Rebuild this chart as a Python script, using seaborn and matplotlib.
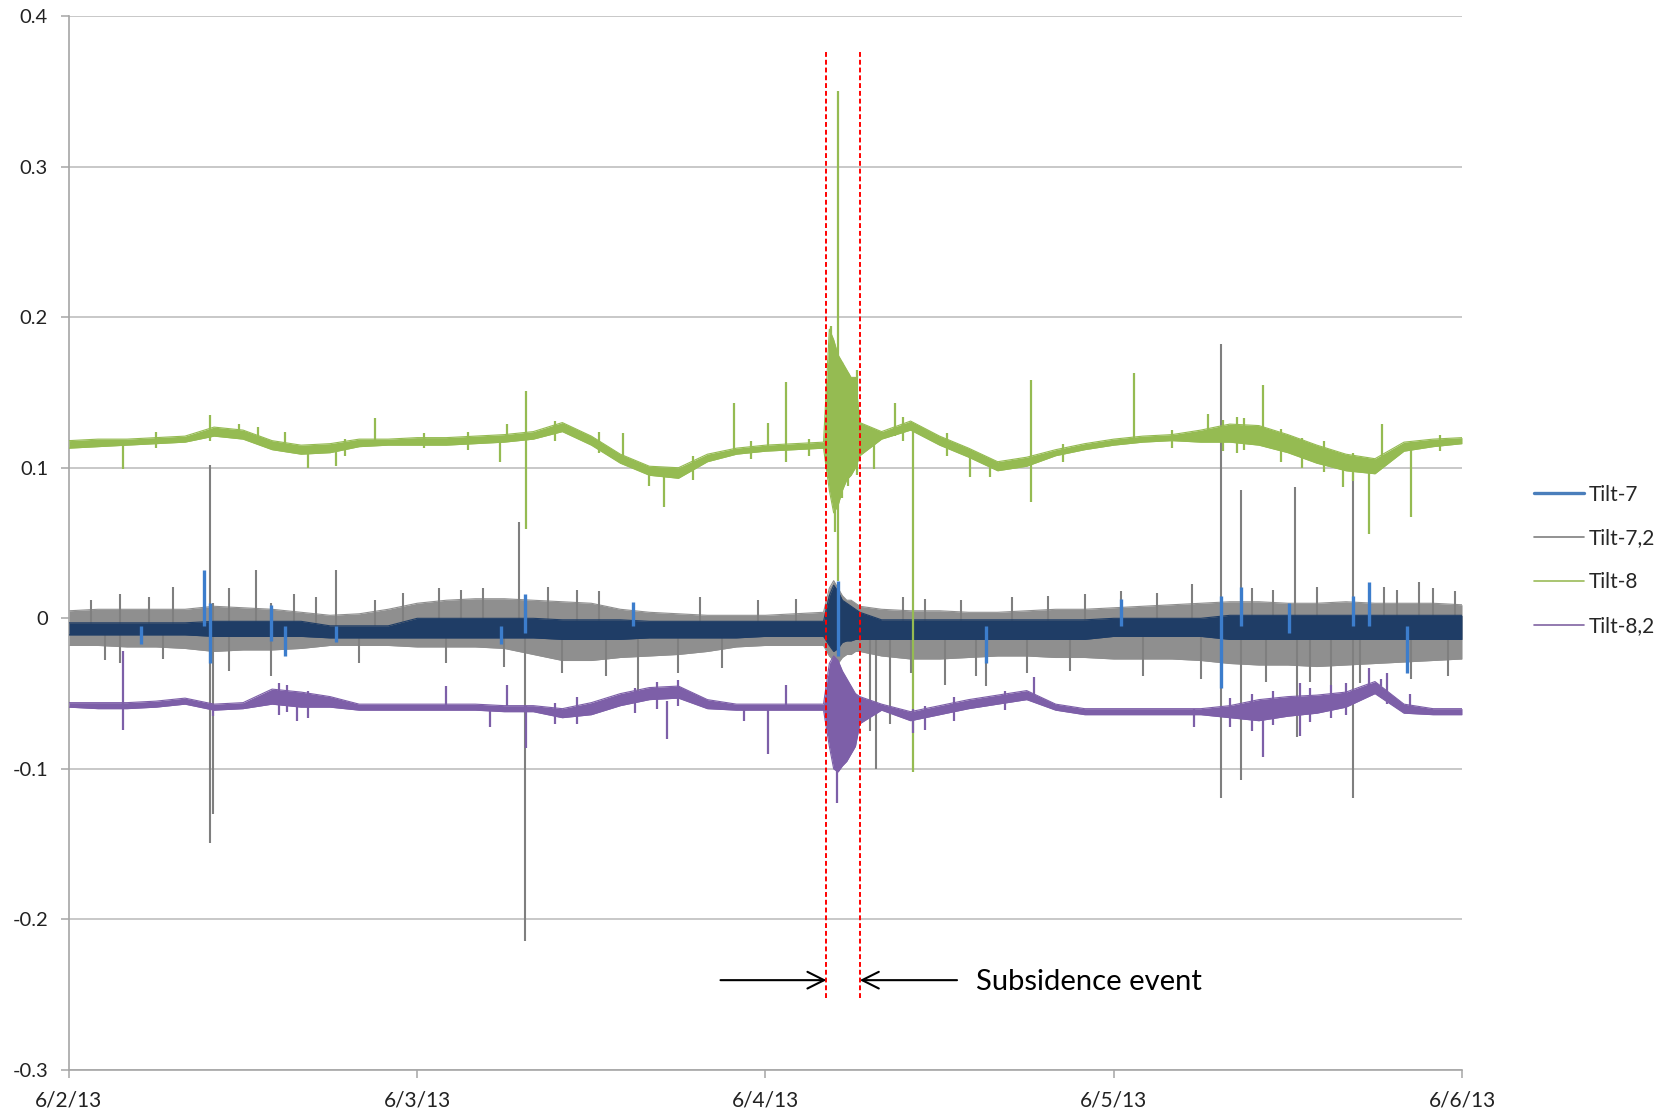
import matplotlib
matplotlib.use("Agg")
import matplotlib.pyplot as plt
from matplotlib.lines import Line2D
import pandas as pd
import seaborn as sns

# time axis in hours after 6/2/13 00:00 (denser points inside the subsidence burst)
hours = list(range(0, 53, 2)) + [52.4, 52.7, 53.0, 53.3, 53.6, 53.9, 54.2, 54.5] + list(range(56, 97, 2))

# noise envelopes (low / high)
tilt7_lo = [-0.011, -0.011, -0.011, -0.011, -0.011, -0.012, -0.012, -0.012, -0.012, -0.013,
            -0.013, -0.013, -0.013, -0.013, -0.013, -0.013, -0.013, -0.014, -0.014, -0.014,
            -0.013, -0.013, -0.013, -0.013, -0.012, -0.012, -0.012,
            -0.018, -0.022, -0.020, -0.016, -0.015, -0.015, -0.014, -0.014,
            -0.014, -0.014, -0.014, -0.014, -0.014, -0.014, -0.014, -0.014, -0.012, -0.012,
            -0.012, -0.012, -0.014, -0.014, -0.014, -0.014, -0.014, -0.014, -0.014, -0.014, -0.014]
tilt7_hi = [-0.003, -0.003, -0.003, -0.003, -0.003, -0.002, -0.002, -0.002, -0.002, -0.005,
            -0.005, -0.005, 0.000, 0.000, 0.000, 0.000, 0.000, -0.001, -0.001, -0.001,
            -0.002, -0.002, -0.002, -0.002, -0.002, -0.002, -0.002,
            0.015, 0.022, 0.018, 0.012, 0.010, 0.008, 0.006, 0.004,
            -0.001, -0.001, -0.001, -0.001, -0.001, -0.001, -0.001, -0.001, 0.000, 0.000,
            0.000, 0.000, 0.002, 0.002, 0.002, 0.002, 0.002, 0.002, 0.002, 0.002, 0.002]

tilt72_lo = [-0.018, -0.018, -0.019, -0.019, -0.020, -0.022, -0.021, -0.021, -0.020, -0.018,
             -0.018, -0.018, -0.019, -0.019, -0.019, -0.020, -0.024, -0.028, -0.028, -0.026,
             -0.025, -0.024, -0.022, -0.019, -0.018, -0.018, -0.018,
             -0.025, -0.028, -0.030, -0.026, -0.024, -0.024, -0.022, -0.022,
             -0.025, -0.027, -0.027, -0.026, -0.025, -0.025, -0.026, -0.026, -0.027, -0.027,
             -0.027, -0.028, -0.030, -0.031, -0.031, -0.032, -0.031, -0.030, -0.029, -0.028, -0.027]
tilt72_hi = [0.005, 0.006, 0.006, 0.006, 0.006, 0.008, 0.007, 0.006, 0.004, 0.002,
             0.003, 0.006, 0.010, 0.012, 0.013, 0.013, 0.012, 0.011, 0.010, 0.006,
             0.004, 0.003, 0.002, 0.002, 0.002, 0.003, 0.004,
             0.020, 0.025, 0.020, 0.015, 0.012, 0.012, 0.010, 0.008,
             0.006, 0.005, 0.005, 0.004, 0.004, 0.005, 0.006, 0.006, 0.007, 0.008,
             0.009, 0.010, 0.011, 0.011, 0.010, 0.010, 0.011, 0.010, 0.010, 0.010, 0.009]

tilt8_lo = [0.113, 0.114, 0.115, 0.116, 0.117, 0.121, 0.119, 0.112, 0.109, 0.110,
            0.114, 0.115, 0.115, 0.115, 0.116, 0.117, 0.119, 0.124, 0.115, 0.103,
            0.095, 0.093, 0.104, 0.109, 0.111, 0.112, 0.113,
            0.085, 0.070, 0.075, 0.085, 0.092, 0.095, 0.100, 0.108,
            0.119, 0.125, 0.115, 0.107, 0.098, 0.101, 0.108, 0.112, 0.115, 0.117,
            0.118, 0.117, 0.117, 0.115, 0.110, 0.103, 0.098, 0.096, 0.111, 0.114, 0.116]
tilt8_hi = [0.118, 0.119, 0.119, 0.120, 0.121, 0.127, 0.125, 0.118, 0.115, 0.116,
            0.119, 0.119, 0.120, 0.120, 0.121, 0.122, 0.124, 0.130, 0.121, 0.109,
            0.101, 0.100, 0.109, 0.113, 0.115, 0.116, 0.117,
            0.192, 0.185, 0.175, 0.170, 0.165, 0.160, 0.160, 0.130,
            0.124, 0.131, 0.121, 0.113, 0.104, 0.107, 0.112, 0.116, 0.119, 0.121,
            0.122, 0.125, 0.129, 0.128, 0.122, 0.115, 0.109, 0.106, 0.117, 0.119, 0.120]

tilt82_lo = [-0.059, -0.060, -0.060, -0.059, -0.057, -0.061, -0.060, -0.057, -0.059, -0.059,
             -0.061, -0.061, -0.061, -0.061, -0.061, -0.062, -0.062, -0.066, -0.064, -0.058,
             -0.054, -0.053, -0.060, -0.061, -0.061, -0.061, -0.061,
             -0.085, -0.100, -0.102, -0.098, -0.095, -0.090, -0.085, -0.070,
             -0.061, -0.068, -0.064, -0.060, -0.057, -0.054, -0.061, -0.064, -0.064, -0.064,
             -0.064, -0.064, -0.066, -0.068, -0.065, -0.063, -0.059, -0.050, -0.063, -0.064, -0.064]
tilt82_hi = [-0.056, -0.056, -0.056, -0.055, -0.053, -0.057, -0.056, -0.047, -0.049, -0.052,
             -0.057, -0.057, -0.057, -0.057, -0.057, -0.058, -0.058, -0.060, -0.056, -0.050,
             -0.046, -0.045, -0.054, -0.057, -0.057, -0.057, -0.057,
             -0.030, -0.025, -0.028, -0.035, -0.040, -0.045, -0.050, -0.052,
             -0.057, -0.062, -0.058, -0.054, -0.051, -0.048, -0.057, -0.060, -0.060, -0.060,
             -0.060, -0.060, -0.058, -0.054, -0.052, -0.051, -0.049, -0.042, -0.057, -0.060, -0.060]

# isolated spikes: hour, bottom, top
tilt7_spike_t = [5.0, 9.3, 9.7, 13.9, 14.9, 18.4, 29.8, 31.4, 38.9, 53.0, 63.2, 72.5, 79.4, 80.8, 84.1, 88.5, 89.6, 92.2]
tilt7_spike_lo = [-0.017, -0.005, -0.030, -0.015, -0.025, -0.016, -0.017, -0.010, -0.005, -0.025, -0.030, -0.005, -0.046, -0.005, -0.010, -0.005, -0.005, -0.036]
tilt7_spike_hi = [-0.005, 0.032, 0.010, 0.009, -0.005, -0.005, -0.005, 0.016, 0.011, 0.025, -0.005, 0.013, 0.015, 0.021, 0.010, 0.015, 0.024, -0.005]

tilt72_spike_t = [1.5, 2.5, 3.5, 5.5, 6.5, 7.2, 9.7, 9.9, 11.0, 12.9, 13.9, 15.5, 17.0, 18.4, 20.0, 21.1,
                  23.0, 25.5, 26.0, 27.0, 28.5, 30.0, 31.0, 31.4, 33.0, 34.0, 35.0, 36.5, 37.0, 39.2,
                  42.0, 43.5, 45.0, 47.5, 50.1, 55.2, 55.6, 56.6, 57.5, 58.0, 59.0, 60.4, 61.5, 62.5,
                  63.2, 65.0, 66.0, 67.5, 69.0, 70.0, 72.5, 74.0, 75.0, 77.4, 78.0, 79.4, 80.8, 81.5,
                  82.5, 83.0, 84.5, 84.6, 85.5, 86.0, 87.0, 88.5, 89.0, 90.6, 91.5, 92.5, 93.0, 94.0, 95.0, 95.5]
tilt72_spike_lo = [-0.010, -0.028, -0.030, -0.010, -0.027, -0.010, -0.149, -0.130, -0.035, -0.005, -0.038, -0.010, -0.010, -0.010, -0.030, -0.005,
                   -0.010, -0.010, -0.030, -0.010, -0.010, -0.032, -0.005, -0.214, -0.010, -0.036, -0.010, -0.010, -0.038, -0.050,
                   -0.036, -0.010, -0.033, -0.010, -0.010, -0.075, -0.100, -0.070, -0.010, -0.036, -0.010, -0.044, -0.010, -0.038,
                   -0.045, -0.010, -0.036, -0.010, -0.035, -0.010, -0.010, -0.038, -0.010, -0.010, -0.040, -0.119, -0.1075, -0.010,
                   -0.042, -0.010, -0.010, -0.079, -0.042, -0.010, -0.044, -0.119, -0.043, -0.010, -0.010, -0.040, -0.010, -0.010, -0.038, -0.010]
tilt72_spike_hi = [0.012, -0.010, 0.016, 0.014, -0.010, 0.021, 0.102, 0.010, 0.020, 0.032, 0.010, 0.016, 0.014, 0.032, -0.010, 0.012,
                   0.017, 0.020, -0.010, 0.019, 0.020, -0.010, 0.064, 0.010, 0.021, -0.010, 0.019, 0.018, -0.010, -0.010,
                   -0.010, 0.014, -0.010, 0.012, 0.013, -0.010, -0.005, -0.010, 0.014, -0.010, 0.013, -0.010, 0.012, -0.010,
                   -0.010, 0.014, -0.010, 0.015, -0.010, 0.016, 0.018, -0.010, 0.017, 0.023, -0.010, 0.182, 0.085, 0.020,
                   -0.010, 0.019, 0.087, -0.010, -0.010, 0.021, -0.010, 0.101, -0.010, 0.021, 0.019, -0.010, 0.024, 0.020, -0.010, 0.018]

tilt8_spike_t = [3.7, 6.0, 9.7, 11.7, 13.0, 14.9, 16.5, 18.4, 19.0, 21.1, 24.5, 27.5, 29.7, 30.2, 31.5, 33.5,
                 36.5, 38.2, 40.0, 41.0, 43.0, 45.8, 47.0, 48.2, 49.4, 51.0,
                 52.5, 52.8, 53.0, 53.25, 53.7, 54.3, 55.5, 56.9, 57.5, 58.2, 60.5, 62.1, 63.5, 66.3,
                 68.5, 73.4, 76.0, 78.5, 79.5, 80.5, 81.0, 82.3, 83.5, 85.0, 86.5, 87.8, 88.5, 89.6,
                 90.5, 92.5, 94.5]
tilt8_spike_lo = [0.099, 0.113, 0.118, 0.120, 0.116, 0.114, 0.100, 0.101, 0.108, 0.117, 0.113, 0.112, 0.1035, 0.119, 0.059, 0.118,
                  0.110, 0.106, 0.088, 0.074, 0.092, 0.110, 0.106, 0.113, 0.104, 0.108,
                  0.085, 0.057, 0.025, 0.080, 0.088, 0.095, 0.099, 0.121, 0.118, -0.102, 0.108, 0.094, 0.094, 0.077,
                  0.104, 0.118, 0.113, 0.121, 0.111, 0.110, 0.112, 0.121, 0.104, 0.100, 0.097, 0.087, 0.091, 0.056,
                  0.100, 0.067, 0.111]
tilt8_spike_hi = [0.117, 0.124, 0.135, 0.129, 0.127, 0.124, 0.112, 0.113, 0.119, 0.133, 0.123, 0.124, 0.119, 0.129, 0.151, 0.131,
                  0.124, 0.123, 0.100, 0.098, 0.108, 0.143, 0.118, 0.130, 0.157, 0.119,
                  0.194, 0.178, 0.350, 0.170, 0.163, 0.165, 0.117, 0.143, 0.134, 0.125, 0.123, 0.112, 0.106, 0.158,
                  0.116, 0.163, 0.125, 0.136, 0.132, 0.134, 0.133, 0.155, 0.126, 0.120, 0.118, 0.104, 0.110, 0.100,
                  0.129, 0.114, 0.122]

tilt82_spike_t = [3.7, 9.9, 14.5, 15.0, 15.7, 16.5, 26.0, 29.0, 30.2, 31.5, 33.5, 35.0, 39.0, 40.5, 41.2, 42.0,
                  46.5, 48.2, 49.4, 52.9, 58.2, 59.0, 61.0, 64.5, 66.5, 77.5, 80.0, 81.5, 82.3, 83.0,
                  84.8, 85.5, 87.0, 88.0, 89.6, 90.4, 90.8, 92.4]
tilt82_spike_lo = [-0.074, -0.065, -0.064, -0.062, -0.0685, -0.066, -0.058, -0.072, -0.058, -0.086, -0.070, -0.070, -0.063, -0.060, -0.080, -0.058,
                   -0.068, -0.090, -0.058, -0.1225, -0.076, -0.074, -0.068, -0.061, -0.052, -0.072, -0.072, -0.075, -0.092, -0.071,
                   -0.078, -0.069, -0.066, -0.064, -0.045, -0.045, -0.057, -0.060]
tilt82_spike_hi = [-0.022, -0.058, -0.043, -0.044, -0.055, -0.048, -0.045, -0.058, -0.044, -0.058, -0.056, -0.052, -0.046, -0.042, -0.055, -0.041,
                   -0.058, -0.058, -0.044, -0.030, -0.060, -0.058, -0.052, -0.048, -0.039, -0.060, -0.053, -0.050, -0.060, -0.048,
                   -0.043, -0.046, -0.044, -0.043, -0.033, -0.040, -0.036, -0.050]

event_start, event_end = 52.2, 54.5
y_ticks = [-0.3, -0.2, -0.1, 0.0, 0.1, 0.2, 0.3, 0.4]
y_labels = ["-0.3", "-0.2", "-0.1", "0", "0.1", "0.2", "0.3", "0.4"]
x_ticks = [0, 24, 48, 72, 96]
x_labels = ["6/2/13", "6/3/13", "6/4/13", "6/5/13", "6/6/13"]

sns.set_theme(style="white")
plt.rcParams["font.family"] = ["Lato", "DejaVu Sans"]

fig = plt.figure(figsize=(16.73, 11.2), dpi=100)
ax = fig.add_axes([0.0412, 0.0446, 0.8327, 0.9411])


def band(lo, hi, color, z, lw=0.8):
    df = pd.DataFrame({"hours": hours, "lo": lo, "hi": hi})
    ax.fill_between(df["hours"], df["lo"], df["hi"], color=color, lw=0, zorder=z)
    sns.lineplot(data=df, x="hours", y="lo", color=color, lw=lw, estimator=None, ax=ax, zorder=z)
    sns.lineplot(data=df, x="hours", y="hi", color=color, lw=lw, estimator=None, ax=ax, zorder=z)


band(tilt72_lo, tilt72_hi, "#8f8f8f", 2)
ax.vlines(tilt72_spike_t, tilt72_spike_lo, tilt72_spike_hi, colors="#7f7f7f", lw=1.5, zorder=2)
band(tilt7_lo, tilt7_hi, "#1f3d66", 3)
ax.vlines(tilt7_spike_t, tilt7_spike_lo, tilt7_spike_hi, colors="#3c7dcc", lw=2.4, zorder=3)
band(tilt8_lo, tilt8_hi, "#95bb52", 4)
ax.vlines(tilt8_spike_t, tilt8_spike_lo, tilt8_spike_hi, colors="#95bb52", lw=1.6, zorder=4)
band(tilt82_lo, tilt82_hi, "#7d5fa8", 4)
ax.vlines(tilt82_spike_t, tilt82_spike_lo, tilt82_spike_hi, colors="#7d5fa8", lw=1.6, zorder=4)

# subsidence event markers
ax.vlines([event_start, event_end], -0.252, 0.376, colors="#ff0000",
          linestyles=(0, (2.5, 1.5)), lw=1.4, zorder=6)
arrow = dict(arrowstyle="->", color="black", lw=1.5, mutation_scale=30, shrinkA=0, shrinkB=0)
ax.annotate("", xy=(event_start, -0.2403), xytext=(44.9, -0.2403), arrowprops=arrow, zorder=6)
ax.annotate("", xy=(event_end, -0.2403), xytext=(61.2, -0.2403), arrowprops=arrow, zorder=6)
ax.text(62.5, -0.2415, "Subsidence event", fontsize=21, va="center", ha="left", color="black")

ax.set_xlim(0, 96)
ax.set_ylim(-0.3, 0.4)
ax.set_xticks(x_ticks)
ax.set_xticklabels(x_labels)
ax.set_yticks(y_ticks)
ax.set_yticklabels(y_labels)
ax.set_xlabel("")
ax.set_ylabel("")
ax.yaxis.grid(True, color="#bfbfbf", lw=1.2)
ax.xaxis.grid(False)
ax.set_axisbelow(True)
for side in ["top", "right"]:
    ax.spines[side].set_visible(False)
for side in ["left", "bottom"]:
    ax.spines[side].set_color("#a6a6a6")
    ax.spines[side].set_linewidth(1.2)
ax.tick_params(axis="both", bottom=True, left=True, direction="out", length=6,
               width=1.1, color="#a6a6a6", labelcolor="#222222")
ax.tick_params(axis="y", labelsize=14.5, pad=9)
ax.tick_params(axis="x", labelsize=15, pad=9)

handles = [
    Line2D([], [], color="#4a7ebb", lw=2.4),
    Line2D([], [], color="#7f7f7f", lw=1.2),
    Line2D([], [], color="#9bbb59", lw=1.2),
    Line2D([], [], color="#8064a2", lw=1.2),
]
fig.legend(handles, ["Tilt-7", "Tilt-7,2", "Tilt-8", "Tilt-8,2"], loc="center left",
           bbox_to_anchor=(0.9169, 0.4996), frameon=False, fontsize=15,
           handlelength=2.4, handletextpad=0.25, labelspacing=1.15,
           borderpad=0, borderaxespad=0)

fig.savefig("out.png", dpi=100, facecolor="white")
